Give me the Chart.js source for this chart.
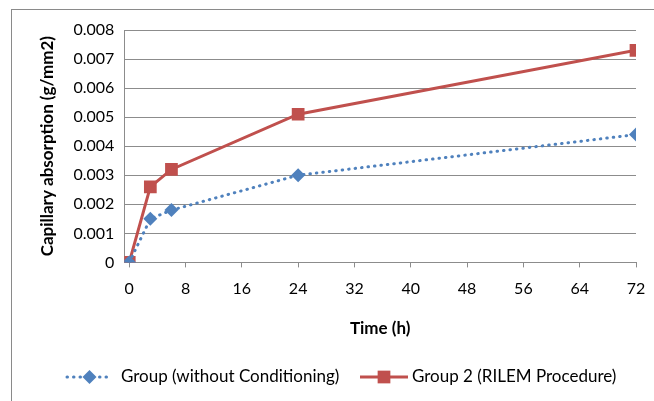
<!DOCTYPE html>
<html>
<head>
<meta charset="utf-8">
<script src="https://cdn.jsdelivr.net/npm/chart.js@4.4.1/dist/chart.umd.min.js"></script>
<style>
  html, body { margin: 0; padding: 0; background: #fff; overflow: hidden; }
  #wrap { position: relative; width: 654px; height: 401px; }
  #frame { position: absolute; left: 11px; top: 9px; width: 700px; height: 460px; border: 1.5px solid #8a8a8a; }
  canvas { position: absolute; left: 0; top: 0; }
</style>
</head>
<body>
<div id="wrap">
  <div id="frame"></div>
  <canvas id="chart" width="654" height="401"></canvas>
</div>
<script>
const hours = [0, 3, 6, 24, 72];
const groupNoCond = [0, 0.0015, 0.0018, 0.003, 0.0044];
const groupRilem = [0, 0.0026, 0.0032, 0.0051, 0.0073];
const xTicks = [0, 8, 16, 24, 32, 40, 48, 56, 64, 72];
const seriesNames = ["Group (without Conditioning)", "Group 2 (RILEM Procedure)"];

const blue = "#4f81bd";
const red = "#c0504d";
const gridColor = "#8c8c8c";
const font = "Lato";

function toPoints(ys) {
  return hours.map((h, i) => ({ x: h, y: ys[i] }));
}

// Excel-style legend at the bottom: line sample with marker, then the label
const bottomLegend = {
  id: "bottomLegend",
  afterDraw(chart) {
    const ctx = chart.ctx;
    const spots = [
      { x1: 67, x2: 112, tx: 121 },
      { x1: 360, x2: 408, tx: 412 },
    ];
    const y = 377;
    chart.data.datasets.forEach((ds, i) => {
      const s = spots[i];
      ctx.save();
      ctx.strokeStyle = ds.borderColor;
      ctx.lineWidth = ds.borderWidth;
      ctx.lineCap = ds.borderCapStyle || "butt";
      ctx.setLineDash(ds.borderDash || []);
      ctx.beginPath();
      ctx.moveTo(s.x1, y);
      ctx.lineTo(s.x2, y);
      ctx.stroke();
      ctx.restore();

      ctx.save();
      ctx.fillStyle = ds.backgroundColor;
      ctx.strokeStyle = ds.backgroundColor;
      Chart.helpers.drawPoint(ctx, {
        pointStyle: ds.pointStyle,
        radius: ds.pointRadius,
        rotation: 0,
        borderWidth: 0,
      }, (s.x1 + s.x2) / 2, y);
      ctx.restore();

      ctx.save();
      ctx.fillStyle = "#000";
      ctx.font = "17px " + font;
      ctx.textBaseline = "middle";
      ctx.fillText(ds.label, s.tx, y);
      ctx.restore();
    });
  },
};

new Chart(document.getElementById("chart"), {
  type: "scatter",
  data: {
    datasets: [
      {
        label: seriesNames[0],
        data: toPoints(groupNoCond),
        showLine: true,
        borderColor: blue,
        backgroundColor: blue,
        borderWidth: 3,
        borderDash: [0.5, 6],
        borderCapStyle: "round",
        pointStyle: "rectRot",
        pointRadius: 7,
        pointHoverRadius: 7,
        pointBorderWidth: 0,
      },
      {
        label: seriesNames[1],
        data: toPoints(groupRilem),
        showLine: true,
        borderColor: red,
        backgroundColor: red,
        borderWidth: 3,
        pointStyle: "rect",
        pointRadius: 9,
        pointHoverRadius: 9,
        pointBorderWidth: 0,
      },
    ],
  },
  options: {
    responsive: false,
    animation: false,
    layout: { padding: { left: 33, right: 18, top: 30, bottom: 58 } },
    plugins: {
      legend: { display: false },
      tooltip: { enabled: false },
    },
    scales: {
      x: {
        type: "linear",
        min: -0.7,
        max: 72,
        afterBuildTicks: (axis) => {
          axis.ticks = xTicks.map((v) => ({ value: v }));
        },
        afterFit: (axis) => {
          axis.paddingRight = 8;
        },
        grid: {
          drawOnChartArea: false,
          drawTicks: true,
          tickLength: 5,
          color: gridColor,
        },
        border: { display: true, color: gridColor, width: 1 },
        ticks: {
          color: "#000",
          font: { family: font, size: 16 },
          padding: 12,
          maxRotation: 0,
        },
        title: {
          display: true,
          text: "Time (h)",
          color: "#000",
          font: { family: font, size: 17, weight: "bold" },
          padding: { top: 8 },
        },
      },
      y: {
        min: 0,
        max: 0.008,
        ticks: {
          stepSize: 0.001,
          color: "#000",
          font: { family: font, size: 16 },
          padding: 10,
          callback: (v) => (v === 0 ? "0" : v.toFixed(3)),
        },
        grid: { color: gridColor, drawTicks: false },
        border: { display: true, color: gridColor, width: 1 },
        title: {
          display: true,
          text: "Capillary absorption (g/mm2)",
          color: "#000",
          font: { family: font, size: 17, weight: "bold" },
          padding: { bottom: 6 },
        },
      },
    },
  },
  plugins: [bottomLegend],
});
</script>
</body>
</html>
